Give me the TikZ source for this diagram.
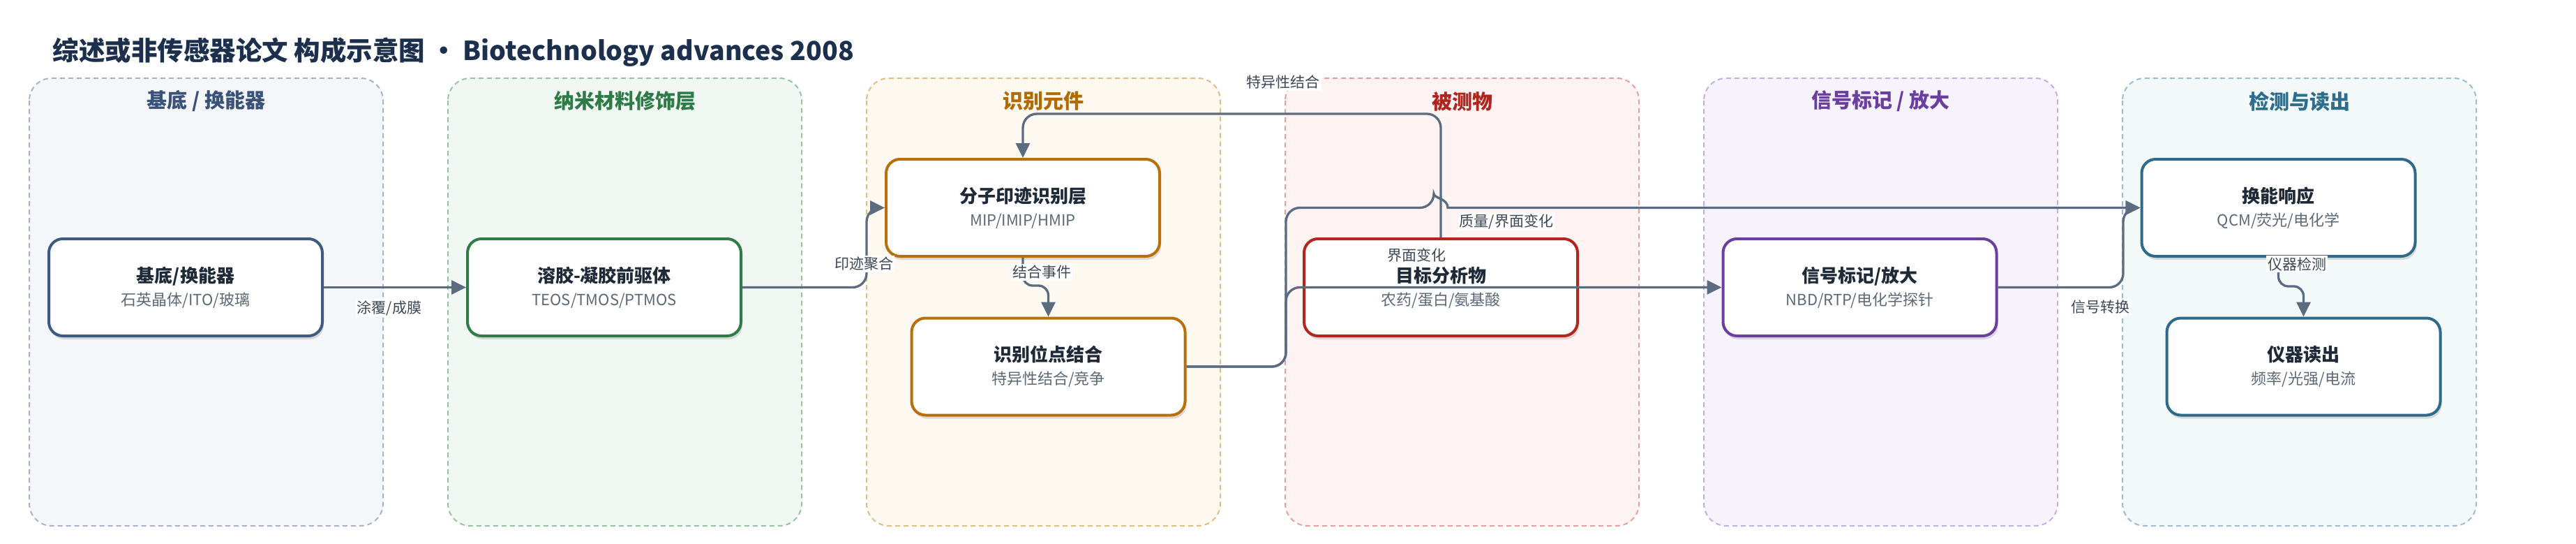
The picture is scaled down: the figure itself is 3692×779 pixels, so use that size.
\documentclass[tikz,border=0pt]{standalone}
\usepackage{fontspec}
\setmainfont{Noto Sans CJK SC}
\usetikzlibrary{arrows.meta,shadows}
\definecolor{edgec}{RGB}{91,107,128}
\definecolor{titlec}{RGB}{28,47,77}
\definecolor{ntc}{RGB}{31,41,55}
\definecolor{subc}{RGB}{93,104,119}
\definecolor{labc}{RGB}{61,71,86}
\definecolor{fA}{HTML}{F4F6FA}\definecolor{bA}{HTML}{A7B4C8}\definecolor{tA}{HTML}{3B5378}\definecolor{nA}{HTML}{3D5A80}
\definecolor{fB}{HTML}{F1F8F3}\definecolor{bB}{HTML}{97C5A4}\definecolor{tB}{HTML}{2E7B47}\definecolor{nB}{HTML}{2E7D46}
\definecolor{fC}{HTML}{FDF8F0}\definecolor{bC}{HTML}{E0BF86}\definecolor{tC}{HTML}{B36B00}\definecolor{nC}{HTML}{B8700D}
\definecolor{fD}{HTML}{FDF3F3}\definecolor{bD}{HTML}{E5A0A0}\definecolor{tD}{HTML}{B0261E}\definecolor{nD}{HTML}{B3261E}
\definecolor{fE}{HTML}{F7F3FC}\definecolor{bE}{HTML}{C5AEE2}\definecolor{tE}{HTML}{6A3FA0}\definecolor{nE}{HTML}{6B3FA0}
\definecolor{fF}{HTML}{F3F8F9}\definecolor{bF}{HTML}{9BBFCC}\definecolor{tF}{HTML}{2D6E8E}\definecolor{nF}{HTML}{2E6B8A}
\newcommand\boxtext[2]{{\fontsize{26}{33}\selectfont\bfseries\color{ntc}#1}\\{\fontsize{22}{33}\selectfont\color{subc}#2}}
\tikzset{
  lanebox/.style 2 args={fill=#1, draw=#2, rounded corners=32pt, line width=2pt, dash pattern=on 7pt off 5pt},
  lanetitle/.style={font=\fontsize{29}{34}\selectfont\bfseries, text=#1},
  stepbox/.style={draw=#1, fill=white, line width=4pt, rounded corners=20pt,
    minimum width=392pt, minimum height=139pt, align=center, font=\fontsize{22}{33}\selectfont,
    drop shadow={shadow xshift=2pt, shadow yshift=-5pt, fill=black, opacity=0.12}},
  edge/.style={draw=edgec, line width=3.3pt, rounded corners=20pt, -{Triangle[length=21pt,width=20pt]}},
  elabel/.style={fill=white, inner sep=2pt, text=labc, font=\fontsize{21}{25}\selectfont}
}
\begin{document}
\begin{tikzpicture}[x=1pt,y=-1pt]
\useasboundingbox (0,0) rectangle (3692,779);
\fill[white] (0,0) rectangle (3692,779);
% title
\node[anchor=west, text=titlec, font=\fontsize{37.5}{44}\selectfont\bfseries] (title) at (72,75)
  {综述或非传感器论文 构成示意图 \textbullet{} Biotechnology advances 2008};
% lanes
\path[lanebox={fA}{bA}] (42,112) rectangle ++(507,641);
\path[lanebox={fB}{bB}] (642,112) rectangle ++(507,641);
\path[lanebox={fC}{bC}] (1242,112) rectangle ++(507,641);
\path[lanebox={fD}{bD}] (1842,112) rectangle ++(507,641);
\path[lanebox={fE}{bE}] (2442,112) rectangle ++(507,641);
\path[lanebox={fF}{bF}] (3042,112) rectangle ++(507,641);
\node[lanetitle=tA] (t1) at (295.5,145) {基底 / 换能器};
\node[lanetitle=tB] (t2) at (895.5,145) {纳米材料修饰层};
\node[lanetitle=tC] (t3) at (1495.5,145) {识别元件};
\node[lanetitle=tD] (t4) at (2095.5,145) {被测物};
\node[lanetitle=tE] (t5) at (2695.5,145) {信号标记 / 放大};
\node[lanetitle=tF] (t6) at (3295.5,145) {检测与读出};
% nodes
\node[stepbox=nA] (n1) at (266,411.5) {\boxtext{基底/换能器}{石英晶体/ITO/玻璃}};
\node[stepbox=nB] (n2) at (866,411.5) {\boxtext{溶胶-凝胶前驱体}{TEOS/TMOS/PTMOS}};
\node[stepbox=nC] (n3) at (1466,297.5) {\boxtext{分子印迹识别层}{MIP/IMIP/HMIP}};
\node[stepbox=nC] (n4) at (1502.5,525) {\boxtext{识别位点结合}{特异性结合/竞争}};
\node[stepbox=nD] (n5) at (2065,411.5) {\boxtext{目标分析物}{农药/蛋白/氨基酸}};
\node[stepbox=nE] (n6) at (2665.5,411.5) {\boxtext{信号标记/放大}{NBD/RTP/电化学探针}};
\node[stepbox=nF] (n7) at (3265.5,297.5) {\boxtext{换能响应}{QCM/荧光/电化学}};
\node[stepbox=nF] (n8) at (3301.5,525) {\boxtext{仪器读出}{频率/光强/电流}};
% edges
\draw[edge] (n1.east) -- (n2.west);
\draw[edge] (n2.east) -- (1242,411.5) |- (n3.west);
\draw[edge,rounded corners=14pt] (n3.south) -- (1466,409) -| (n4.north);
\draw[edge] (n5.north) -- (2065,163) -| (n3.north);
\draw[edge] (n4.east) -- (1843,525) |- (2055,297.5) [sharp corners]
  .. controls (2055,284) and (2075,284) .. (2075,297.5) -- (n7.west);
\draw[edge] (n4.east) -- (1843,525) |- (n6.west);
\draw[edge] (n6.east) -- (3043,411.5) |- (n7.west);
\draw[edge,rounded corners=14pt] (n7.south) -- (3265.5,410) -| (n8.north);
% labels
\node[elabel] (l1) at (558,441) {涂覆/成膜};
\node[elabel] (l2) at (1238,378) {印迹聚合};
\node[elabel] (l3) at (1493,390) {结合事件};
\node[elabel] (l4) at (1839,118) {特异性结合};
\node[elabel] (l5) at (2159,317) {质量/界面变化};
\node[elabel] (l6) at (2030,365) {界面变化};
\node[elabel] (l7) at (3010,440) {信号转换};
\node[elabel] (l8) at (3292,378) {仪器检测};
\end{tikzpicture}
\end{document}
